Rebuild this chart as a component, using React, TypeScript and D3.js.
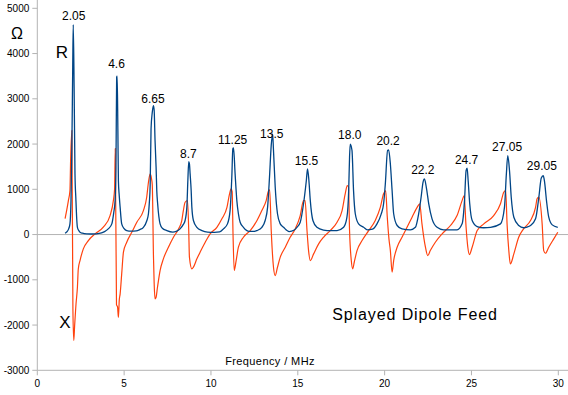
import React from "react";
import * as d3 from "d3";

const rData: [number, number][] = [
  [1.6, 30], [1.7, 60], [1.8, 120], [1.88, 236], [1.94, 750], [1.99, 1900], [2.04, 3700], [2.07, 4640],
  [2.12, 3255], [2.17, 1340], [2.22, 800], [2.27, 350], [2.31, 160], [2.4, 80], [2.46, 52], [2.6, 30],
  [2.85, 15], [3.1, 12], [3.4, 15], [3.7, 35], [3.9, 70], [4.1, 130], [4.29, 236], [4.4, 480],
  [4.48, 750], [4.53, 1500], [4.57, 3480], [4.6, 3500], [4.64, 2300], [4.67, 1190], [4.72, 850],
  [4.77, 600], [4.86, 236], [5.0, 130], [5.15, 88], [5.4, 75], [5.7, 80], [5.9, 110], [6.11, 160],
  [6.3, 300], [6.4, 460], [6.45, 700], [6.5, 1100], [6.55, 2340], [6.62, 2700], [6.69, 2850],
  [6.73, 2740], [6.78, 2080], [6.84, 1490], [6.88, 970], [6.93, 680], [7.07, 236], [7.2, 140],
  [7.46, 88], [7.8, 55], [8.0, 70], [8.22, 125], [8.4, 220], [8.51, 310], [8.61, 600], [8.67, 1200],
  [8.72, 1610], [8.76, 1560], [8.8, 1340], [8.86, 972], [8.9, 600], [8.99, 310], [9.19, 160],
  [9.48, 88], [9.8, 55], [10.2, 50], [10.5, 60], [10.72, 125], [10.95, 236], [11.1, 530], [11.2, 1266],
  [11.26, 1894], [11.3, 1915], [11.39, 1340], [11.49, 750], [11.58, 460], [11.68, 272], [11.87, 160],
  [12.2, 70], [12.5, 70], [12.65, 88], [12.93, 160], [13.12, 310], [13.26, 600], [13.37, 1266],
  [13.47, 1970], [13.55, 2225], [13.6, 1860], [13.7, 1045], [13.83, 460], [13.99, 236], [14.18, 160],
  [14.5, 65], [14.8, 100], [14.95, 160], [15.14, 272], [15.33, 680], [15.49, 1190], [15.56, 1450],
  [15.64, 1190], [15.72, 750], [15.87, 310], [16.1, 160], [16.48, 100], [16.9, 85], [17.26, 88],
  [17.64, 160], [17.83, 383], [17.93, 972], [17.98, 1710], [18.02, 2000], [18.12, 1860], [18.21, 970],
  [18.31, 460], [18.5, 236], [18.79, 160], [19.0, 105], [19.3, 120], [19.56, 236], [19.8, 450],
  [19.94, 680], [20.04, 1120], [20.17, 1860], [20.23, 1870], [20.33, 1560], [20.43, 972], [20.52, 460],
  [20.72, 200], [21.0, 125], [21.48, 104], [21.77, 160], [21.96, 460], [22.1, 825], [22.21, 1155],
  [22.29, 1230], [22.4, 1045], [22.54, 680], [22.73, 347], [23.02, 160], [23.4, 104], [24.17, 104],
  [24.46, 236], [24.6, 750], [24.69, 1414], [24.75, 1470], [24.81, 1190], [24.9, 680], [25.04, 310],
  [25.33, 177], [25.7, 150], [26.1, 160], [26.67, 236], [26.9, 600], [27.01, 1340], [27.09, 1745],
  [27.19, 1414], [27.29, 825], [27.44, 383], [27.72, 200], [28.0, 150], [28.2, 165], [28.4, 200],
  [28.69, 347], [28.88, 825], [29.02, 1250], [29.13, 1300], [29.2, 1190], [29.32, 750], [29.45, 383],
  [29.65, 214], [29.97, 160],
];

const xData: [number, number][] = [
  [1.6, 354], [1.7, 550], [1.79, 750], [1.88, 973], [1.92, 1670], [1.99, 2300], [2.05, -1640],
  [2.1, -2340], [2.15, -2010], [2.2, -1700], [2.23, -1530], [2.31, -1165], [2.36, -760], [2.46, -575],
  [2.65, -316], [2.94, -133], [3.33, 15], [3.8, 162], [4.19, 420], [4.38, 750], [4.45, 1000],
  [4.49, 1900], [4.56, -1550], [4.62, -1600], [4.67, -1830], [4.72, -1450], [4.77, -1310],
  [4.86, -870], [4.96, -390], [5.15, -170], [5.44, 50], [5.73, 272], [6.11, 530], [6.3, 825],
  [6.4, 1155], [6.5, 1340], [6.57, 1250], [6.62, 1100], [6.69, -500], [6.73, -1090], [6.78, -1420],
  [6.84, -1385], [6.92, -1165], [7.07, -795], [7.26, -537], [7.55, -280], [7.84, -60], [8.13, 125],
  [8.32, 310], [8.41, 530], [8.51, 714], [8.65, 750], [8.72, 90], [8.76, -500], [8.9, -760],
  [8.99, -720], [9.19, -537], [9.4, -370], [9.67, -170], [9.95, 15], [10.34, 160], [10.63, 347],
  [10.92, 600], [11.07, 900], [11.16, 1010], [11.22, 950], [11.27, 15], [11.34, -795], [11.45, -575],
  [11.58, -280], [11.87, -60], [12.26, 88], [12.65, 310], [12.93, 530], [13.18, 750], [13.32, 972],
  [13.38, 987], [13.47, 88], [13.6, -722], [13.7, -906], [13.83, -722], [13.99, -500], [14.28, -280],
  [14.56, -60], [14.85, 125], [15.14, 420], [15.33, 750], [15.42, 750], [15.53, 88], [15.62, -354],
  [15.72, -575], [15.91, -427], [16.2, -205], [16.48, -60], [16.87, 88], [17.26, 272], [17.55, 530],
  [17.73, 900], [17.85, 1083], [17.92, 1050], [17.98, 88], [18.08, -575], [18.16, -760], [18.25, -612],
  [18.41, -354], [18.7, -133], [19.08, 88], [19.46, 310], [19.75, 600], [19.94, 900], [20.06, 972],
  [20.15, 400], [20.25, -100], [20.33, -354], [20.43, -833], [20.52, -575], [20.72, -280], [21.0, -60],
  [21.29, 160], [21.58, 383], [21.87, 600], [22.02, 680], [22.15, 236], [22.35, -280], [22.48, -464],
  [22.63, -354], [22.92, -170], [23.31, 15], [23.79, 200], [24.17, 420], [24.46, 750], [24.58, 862],
  [24.69, 160], [24.79, -280], [24.88, -442], [25.04, -280], [25.33, 88], [25.71, 236], [26.28, 420],
  [26.67, 680], [26.86, 935], [26.97, 972], [27.05, 236], [27.15, -354], [27.24, -650], [27.44, -427],
  [27.72, -60], [28.0, 125], [28.4, 310], [28.69, 600], [28.78, 790], [28.88, 825], [29.07, 236],
  [29.16, -354], [29.26, -413], [29.45, -280], [29.74, -95], [29.97, 50],
];

const peakLabels = ["2.05", "4.6", "6.65", "8.7", "11.25", "13.5", "15.5", "18.0", "20.2", "22.2", "24.7", "27.05", "29.05"];
const peakLabelFreq = [2.1, 4.56, 6.66, 8.7, 11.25, 13.5, 15.5, 17.99, 20.2, 22.2, 24.72, 27.05, 29.05];
const peakLabelOhms = [4750, 3670, 2900, 1700, 2000, 2130, 1530, 2110, 1980, 1330, 1550, 1840, 1420];

const xTicks = [0, 5, 10, 15, 20, 25, 30];
const yTicks = [-3000, -2000, -1000, 0, 1000, 2000, 3000, 4000, 5000];

const W = 568;
const H = 395;
const FONT = "'Liberation Sans', Arial, sans-serif";
const AXIS = "#b3b3b3";

export default function App() {
  const x = d3.scaleLinear().domain([0, 30]).range([37.3, 558.3]);
  const y = d3.scaleLinear().domain([-3000, 5000]).range([370.3, 8.3]);
  const line = d3
    .line<[number, number]>()
    .x((d) => x(d[0]))
    .y((d) => y(d[1]))
    .curve(d3.curveMonotoneX);

  return (
    <svg
      width={W}
      height={H}
      style={{ position: "absolute", left: 0, top: 0, background: "#fff" }}
      fontFamily={FONT}
    >
      <rect x={0} y={0} width={W} height={H} fill="#fff" />
      <line x1={x(0)} x2={x(0)} y1={0} y2={y(-3000)} stroke={AXIS} strokeWidth={1} />
      <line x1={x(0)} x2={W} y1={y(-3000)} y2={y(-3000)} stroke={AXIS} strokeWidth={1} />
      <line x1={x(0)} x2={W} y1={y(0)} y2={y(0)} stroke={AXIS} strokeWidth={1} />
      {yTicks.map((t) => (
        <g key={"y" + t}>
          <line x1={x(0) - 5} x2={x(0)} y1={y(t)} y2={y(t)} stroke={AXIS} />
          <text x={x(0) - 8} y={y(t) + 3.6} fontSize={10} textAnchor="end" fill="#000">
            {t}
          </text>
        </g>
      ))}
      {xTicks.map((t) => (
        <g key={"x" + t}>
          <line x1={x(t)} x2={x(t)} y1={y(-3000)} y2={y(-3000) + 5} stroke={AXIS} />
          <text x={x(t)} y={387} fontSize={10} textAnchor="middle" fill="#000">
            {t}
          </text>
        </g>
      ))}
      <path d={line(xData) || ""} fill="none" stroke="#ff420e" strokeWidth={1.2} />
      <path d={line(rData) || ""} fill="none" stroke="#004586" strokeWidth={1.3} />
      {peakLabels.map((s, i) => (
        <text
          key={s}
          x={x(peakLabelFreq[i])}
          y={y(peakLabelOhms[i])}
          fontSize={12}
          textAnchor="middle"
          fill="#000"
        >
          {s}
        </text>
      ))}
      <text x={17} y={39} fontSize={16} textAnchor="middle" fill="#000">Ω</text>
      <text x={62} y={58} fontSize={17} textAnchor="middle" fill="#000">R</text>
      <text x={65} y={328} fontSize={17} textAnchor="middle" fill="#000">X</text>
      <text x={415} y={320} fontSize={16} letterSpacing={0.9} textAnchor="middle" fill="#000">Splayed Dipole Feed</text>
      <text x={270} y={365} fontSize={11} letterSpacing={0.4} textAnchor="middle" fill="#000">Frequency / MHz</text>
    </svg>
  );
}
